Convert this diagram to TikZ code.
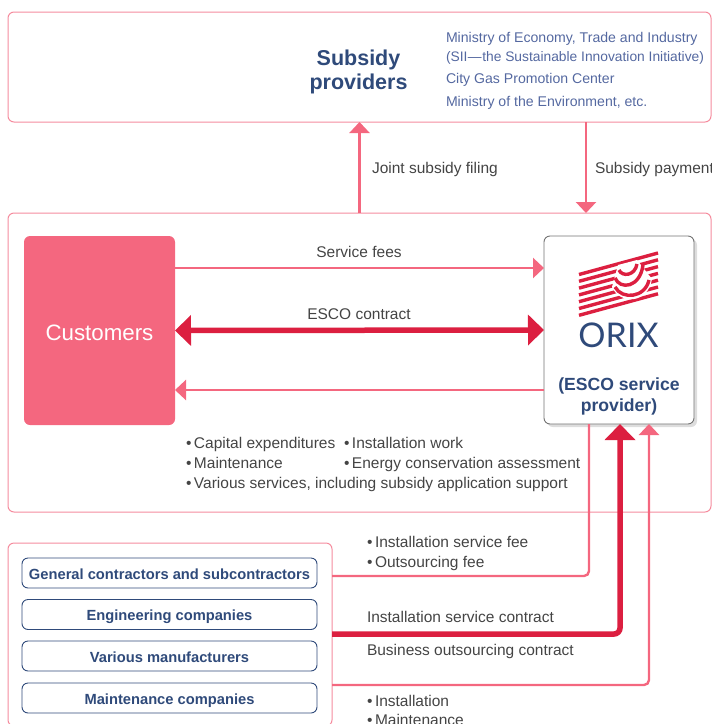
\documentclass[tikz,border=0pt]{standalone}
\usepackage{fontspec}
\setmainfont{Liberation Sans}
\newfontfamily\logofont{Lato}
\usetikzlibrary{arrows.meta,shadows}
\definecolor{linepink}{HTML}{F4677F}
\definecolor{boxpink}{HTML}{F58C9E}
\definecolor{darkred}{HTML}{DC1F40}
\definecolor{navy}{HTML}{2F4A7A}
\definecolor{paleblue}{HTML}{5468A0}
\definecolor{graytext}{HTML}{444444}
\newcommand{\bodysize}{\fontsize{15.5}{18}\selectfont}
\tikzset{
  outerbox/.style={draw=boxpink, line width=1pt, rounded corners=6pt, inner sep=0pt, outer sep=0pt},
  firmbox/.style={draw=navy, line width=0.9pt, rounded corners=6pt, minimum width=295pt, minimum height=30pt, inner sep=0pt, outer sep=0pt, text height=12.5pt, text depth=0pt, text=navy, font=\fontsize{14.7}{17}\selectfont\bfseries},
  lbl/.style={anchor=base west, inner sep=0pt, outer sep=0pt, text=graytext, font=\bodysize},
  lblc/.style={lbl, anchor=base},
  minlbl/.style={lbl, text=paleblue, font=\fontsize{14.1}{17}\selectfont},
  thinline/.style={draw=linepink, line width=2.4pt},
  thickline/.style={draw=darkred, line width=5.5pt},
  thinhead/.style={-{Triangle[length=11pt,width=20pt]}},
  thickhead/.style={-{Triangle[length=16pt,width=30pt]}},
  bothhead/.style={{Triangle[length=16pt,width=30pt]}-{Triangle[length=16pt,width=30pt]}}
}
\begin{document}
\begin{tikzpicture}[x=1pt, y=-1pt]
\useasboundingbox (0,0) rectangle (712,724);
\clip (0,0) rectangle (712,724);

% boxes
\node[outerbox, minimum width=703pt, minimum height=110pt] (providers) at (359.5,67) {};
\node[outerbox, minimum width=703pt, minimum height=299pt] (scheme) at (359.5,362.5) {};
\node[outerbox, minimum width=324pt, minimum height=183pt] (suppliers) at (170,634.5) {};
\node[fill=linepink, rounded corners=6pt, minimum width=151pt, minimum height=189pt, inner sep=0pt, outer sep=0pt] (customers) at (99.5,330.5) {};
\node[inner sep=0pt, text=white, font=\fontsize{22.3}{24}\selectfont] (customerslabel) at (99.5,332.5) {Customers};
\node[draw=black!55, line width=0.9pt, fill=white, rounded corners=6pt, minimum width=150pt, minimum height=188pt, inner sep=0pt, outer sep=0pt, drop shadow={shadow xshift=3pt, shadow yshift=-3pt, opacity=0.22, fill=black!60}] (esco) at (619,330) {};

\node[firmbox] (general) at (169.5,573) {General contractors and subcontractors};
\node[firmbox] (engineering) at (169.5,614.5) {Engineering companies};
\node[firmbox] (makers) at (169.5,656) {Various manufacturers};
\node[firmbox] (maintenance) at (169.5,698) {Maintenance companies};

% logo
\foreach \i in {0,...,6}
  \draw[darkred, line width=3.4pt] (579,274.5+6.8*\i) -- (658,253+6.8*\i);
\fill[white] (618,265) -- (637,260) -- (652,279) .. controls (648,304) and (620,305) .. (612,287) -- cycle;
\draw[darkred, line width=3.4pt] (619,270) .. controls (622,277) and (635,276) .. (637,264);
\draw[darkred, line width=3.4pt] (615,278) .. controls (620,290) and (640,288) .. (643,265);
\draw[darkred, line width=3.4pt] (615,287) .. controls (622,300) and (645,298) .. (649,280);
\node[inner sep=0pt, text=navy, font=\fontsize{34}{36}\logofont] (orix) at (618.5,335.5) {ORIX};
\node[inner sep=0pt, align=center, text=navy, font=\fontsize{17.6}{21}\selectfont\bfseries] (escolabel) at (619,396) {(ESCO service\\provider)};

% texts
\node[inner sep=0pt, align=center, text=navy, font=\fontsize{21.5}{24}\selectfont\bfseries] (subsidy) at (358.5,72) {Subsidy\\providers};
\node[minlbl] (meti) at (446,42) {Ministry of Economy, Trade and Industry};
\node[minlbl, font=\fontsize{13.8}{17}\selectfont] (sii) at (446,61) {(SII\kern0.5pt—\kern0.5pt the Sustainable Innovation Initiative)};
\node[minlbl] (citygas) at (446,83) {City Gas Promotion Center};
\node[minlbl] (moe) at (446,106) {Ministry of the Environment, etc.};

\node[lbl] (filing) at (372,173) {Joint subsidy filing};
\node[lbl] (payment) at (595,173) {Subsidy payment};
\node[lblc] (fees) at (359,257) {Service fees};
\node[lblc] (contract) at (359,319) {ESCO contract};

\node[lbl] (capex) at (186,448) {•\,Capital expenditures};
\node[lbl] (work) at (344,448) {•\,Installation work};
\node[lbl] (upkeep) at (186,468) {•\,Maintenance};
\node[lbl] (assess) at (344,468) {•\,Energy conservation assessment};
\node[lbl] (various) at (186,488) {•\,Various services, including subsidy application support};

\node[lbl] (instfee) at (367,547) {•\,Installation service fee};
\node[lbl] (outfee) at (367,567) {•\,Outsourcing fee};
\node[lbl] (instcontract) at (367,622.5) {Installation service contract};
\node[lbl] (outcontract) at (367,655) {Business outsourcing contract};
\node[lbl] (inst) at (367,706) {•\,Installation};
\node[lbl] (maint) at (367,725) {•\,Maintenance};

% connectors
\coordinate (payx) at (586,0);
\coordinate (feesy) at (0,268);
\coordinate (backy) at (0,390);
\coordinate (feecorner) at (589,576);
\coordinate (contractcorner) at (620,634);
\coordinate (workcorner) at (649,685);

\draw[thinline, thinhead] (scheme.north) -- (providers.south);
\draw[thinline, thinhead] (providers.south -| payx) -- (scheme.north -| payx);
\draw[thinline, thinhead] (customers.east |- feesy) -- (esco.west |- feesy);
\draw[thickline, bothhead] (customers.east) -- (esco.west);
\draw[thinline, thinhead] (esco.west |- backy) -- (customers.east |- backy);

\draw[thinline, rounded corners=5pt] (esco.south -| feecorner) |- (suppliers.east |- feecorner);
\draw[thickline, thickhead, rounded corners=6pt] (suppliers.east |- contractcorner) -| (esco.south -| contractcorner);
\draw[thinline, thinhead, rounded corners=5pt] (suppliers.east |- workcorner) -| (esco.south -| workcorner);

\end{tikzpicture}
\end{document}
